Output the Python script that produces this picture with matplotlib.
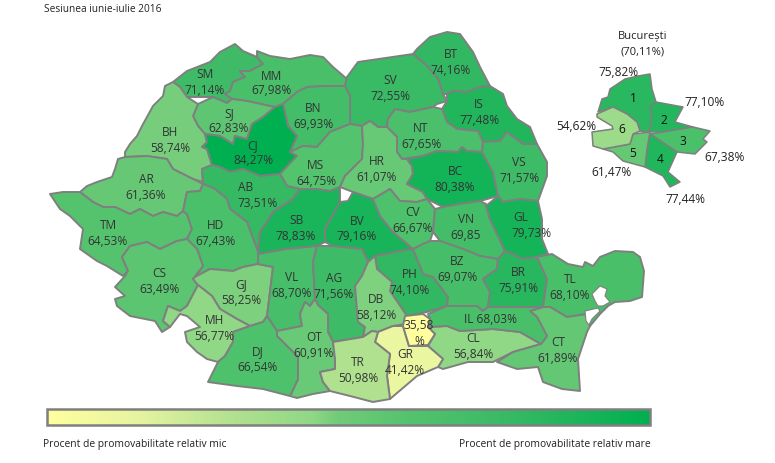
import matplotlib
matplotlib.use("Agg")
import matplotlib.pyplot as plt
from matplotlib.colors import LinearSegmentedColormap, Normalize
from matplotlib.patches import Polygon, Rectangle
import numpy as np

plt.rcParams['font.family'] = ['Open Sans', 'DejaVu Sans']

# county results
counties = ["SM", "MM", "BT", "SV", "IS", "BN", "SJ", "NT", "BH", "CJ", "MS", "HR", "BC", "VS", "AR", "AB",
            "TM", "HD", "SB", "BV", "CV", "VN", "GL", "CS", "GJ", "VL", "AG", "PH", "BZ", "BR", "TL", "DB",
            "MH", "OT", "CL", "CT", "GR", "TR", "DJ", "IL", "IF"]
results = ["71,14%", "67,98%", "74,16%", "72,55%", "77,48%", "69,93%", "62,83%", "67,65%", "58,74%", "84,27%",
           "64,75%", "61,07%", "80,38%", "71,57%", "61,36%", "73,51%", "64,53%", "67,43%", "78,83%", "79,16%",
           "66,67%", "69,85", "79,73%", "63,49%", "58,25%", "68,70%", "71,56%", "74,10%", "69,07%", "75,91%",
           "68,10%", "58,12%", "56,77%", "60,91%", "56,84%", "61,89%", "41,42%", "50,98%", "66,54%", "68,03%",
           "35,58%"]

# Bucharest sectors
sectors = ["1", "2", "3", "4", "5", "6"]
sector_results = ["75,82%", "77,10%", "67,38%", "77,44%", "61,47%", "54,62%"]

title_text = "Sesiunea iunie-iulie 2016"
city_name = "București"
city_result = "(70,11%)"
legend_low = "Procent de promovabilitate relativ mic"
legend_high = "Procent de promovabilitate relativ mare"

# outlines, traced in image pixels
shapes = {
    "SM": [(173,83),(187,72),(210,63),(220,53),(235,45),(243,52),(257,58),(263,65),(250,72),(240,72),(245,78),(233,83),(230,92),(225,95),(232,100),(227,104),(213,98),(187,98),(180,88)],
    "MM": [(257,58),(263,65),(250,72),(240,72),(245,78),(233,83),(230,92),(225,95),(232,100),(247,102),(270,107),(275,108),(283,105),(297,93),(307,88),(323,87),(345,87),(347,80),(333,68),(323,58),(310,56),(290,60),(270,57),(257,52)],
    "SV": [(347,78),(358,63),(413,55),(427,67),(438,80),(443,95),(447,102),(437,105),(433,108),(410,113),(395,110),(388,120),(387,128),(378,128),(370,122),(362,127),(350,125),(350,97),(345,87)],
    "BT": [(413,55),(417,50),(430,38),(447,33),(460,35),(473,53),(480,68),(490,87),(480,88),(467,93),(453,92),(447,95),(443,95),(438,80),(427,67)],
    "IS": [(447,95),(453,92),(467,93),(480,88),(490,87),(503,95),(507,107),(517,120),(530,128),(537,145),(523,145),(507,133),(500,142),(483,143),(478,132),(457,130),(447,123),(442,110),(447,102)],
    "NT": [(395,110),(410,113),(433,108),(442,110),(447,123),(457,130),(478,132),(483,143),(482,153),(467,152),(462,148),(458,153),(437,152),(423,157),(402,160),(397,153),(397,138),(387,128),(388,120)],
    "BC": [(407,160),(423,157),(437,152),(458,153),(462,148),(467,152),(482,153),(493,173),(498,197),(480,202),(460,205),(443,208),(427,200),(423,193),(407,185),(413,175),(412,167)],
    "VS": [(482,153),(483,143),(500,142),(507,133),(523,145),(537,145),(547,163),(547,177),(538,202),(520,200),(503,203),(498,197),(493,173)],
    "HR": [(370,122),(378,128),(387,128),(397,138),(397,153),(402,160),(407,160),(412,167),(413,175),(407,185),(423,193),(427,200),(417,203),(400,202),(390,190),(373,200),(353,193),(340,188),(345,177),(362,160),(363,145),(362,127)],
    "MS": [(362,127),(363,145),(362,160),(345,177),(340,188),(330,192),(317,190),(300,190),(287,187),(280,175),(297,157),(290,153),(303,147),(317,148),(330,133),(350,125)],
    "BN": [(297,93),(307,88),(323,87),(345,87),(350,97),(350,125),(330,133),(317,148),(303,147),(290,153),(297,137),(288,127),(283,105)],
    "SJ": [(193,117),(198,105),(213,98),(227,104),(232,100),(247,102),(270,107),(275,108),(263,118),(252,125),(247,140),(235,137),(233,145),(220,137),(205,135),(198,127)],
    "CJ": [(205,135),(220,137),(233,145),(235,137),(247,140),(252,125),(263,118),(275,108),(283,105),(288,127),(297,137),(290,153),(297,157),(280,175),(260,177),(243,170),(230,173),(220,168),(212,166),(207,150),(202,148),(207,143)],
    "BH": [(173,83),(180,88),(187,98),(198,105),(193,117),(198,127),(205,135),(207,143),(202,148),(207,150),(212,166),(202,170),(203,183),(193,180),(173,170),(167,160),(147,157),(125,158),(125,153),(130,145),(137,137),(142,127),(153,107),(163,97),(165,87)],
    "AR": [(125,158),(147,157),(167,160),(173,170),(193,180),(203,185),(200,192),(187,193),(183,212),(177,217),(163,213),(153,217),(140,210),(130,215),(115,208),(103,208),(93,203),(80,193),(87,187),(97,183),(112,178),(115,170),(118,160)],
    "TM": [(50,195),(63,193),(80,193),(93,203),(103,208),(115,208),(130,215),(140,210),(153,217),(163,213),(177,217),(183,212),(187,215),(192,230),(187,240),(177,242),(160,250),(147,243),(130,247),(122,258),(128,272),(123,277),(107,267),(97,262),(80,250),(83,230),(70,217),(60,210)],
    "CS": [(122,258),(130,247),(147,243),(160,250),(177,242),(187,240),(197,250),(203,267),(193,280),(198,286),(187,307),(180,312),(168,307),(163,322),(170,328),(162,333),(155,322),(130,317),(117,307),(115,300),(125,297),(115,288),(125,277),(128,272)],
    "HD": [(200,192),(187,193),(183,212),(187,215),(192,230),(187,240),(197,250),(203,267),(195,278),(210,270),(233,272),(243,268),(258,265),(258,253),(247,223),(230,210),(227,200),(215,190),(203,185)],
    "AB": [(202,170),(212,166),(220,168),(230,173),(243,170),(260,177),(280,175),(287,187),(300,190),(293,200),(273,213),(267,223),(260,233),(258,253),(247,223),(230,210),(227,200),(215,190),(203,185)],
    "SB": [(258,255),(260,233),(267,223),(273,213),(293,200),(300,190),(317,190),(330,192),(340,188),(340,203),(325,230),(325,243),(317,247),(287,250)],
    "BV": [(340,203),(348,202),(353,193),(373,200),(380,217),(393,233),(413,250),(400,252),(375,257),(368,263),(362,250),(333,247),(325,243),(325,230)],
    "CV": [(373,200),(390,190),(400,202),(417,203),(427,200),(435,210),(433,233),(430,242),(423,245),(413,250),(393,233),(380,217)],
    "VN": [(435,210),(443,208),(460,205),(480,202),(486,205),(490,220),(505,252),(498,260),(480,257),(463,250),(440,242),(433,233)],
    "GL": [(486,207),(498,197),(503,203),(520,200),(538,202),(542,220),(542,240),(548,255),(537,258),(523,260),(505,252),(490,220)],
    "BR": [(505,252),(523,260),(537,258),(547,280),(543,308),(520,308),(488,308),(490,293),(483,280),(490,275),(497,270),(498,260)],
    "BZ": [(440,242),(463,250),(480,257),(498,260),(497,270),(490,275),(483,280),(490,293),(488,308),(483,312),(477,307),(447,307),(448,298),(440,287),(433,278),(423,275),(420,267),(413,250),(423,245),(430,242)],
    "PH": [(375,257),(400,252),(413,250),(420,267),(423,275),(433,278),(440,287),(448,298),(447,307),(427,313),(407,317),(390,292),(392,283),(377,270)],
    "DB": [(368,263),(375,257),(377,270),(392,283),(390,292),(407,317),(405,325),(393,327),(378,333),(372,332),(363,338),(365,328),(358,323),(355,287),(362,277)],
    "AG": [(317,247),(333,247),(362,250),(368,263),(362,277),(355,287),(358,323),(365,328),(363,338),(333,343),(328,333),(328,315),(318,306),(315,300),(313,263)],
    "VL": [(258,255),(287,250),(317,247),(313,263),(315,300),(310,307),(305,303),(300,315),(302,327),(287,330),(277,332),(267,317),(270,293),(273,268),(258,265)],
    "GJ": [(195,278),(210,270),(233,272),(243,268),(258,265),(273,268),(270,293),(267,317),(263,323),(250,327),(237,320),(220,310),(212,297),(198,286),(193,280)],
    "MH": [(198,286),(212,297),(220,310),(237,320),(250,327),(233,333),(233,343),(225,357),(218,363),(207,360),(197,353),(187,343),(185,333),(200,328),(187,317),(180,315),(170,328),(163,322),(168,307),(180,312),(187,307)],
    "DJ": [(250,327),(263,323),(267,317),(277,332),(277,337),(293,353),(298,358),(298,380),(290,397),(263,390),(237,387),(208,383),(218,363),(225,357),(233,343),(233,333)],
    "OT": [(277,332),(287,330),(302,327),(300,315),(305,303),(310,307),(315,300),(318,306),(328,315),(328,333),(333,343),(335,360),(335,370),(320,373),(323,383),(330,392),(313,395),(297,399),(290,397),(298,380),(298,358),(293,353),(277,337)],
    "TR": [(333,343),(363,338),(372,332),(378,333),(375,343),(390,355),(387,377),(390,400),(373,403),(350,397),(330,392),(323,383),(320,373),(335,370),(335,360)],
    "GR": [(378,333),(393,327),(403,327),(409,347),(428,347),(443,360),(438,368),(417,377),(390,400),(387,377),(390,355),(375,343)],
    "IF": [(405,317),(423,315),(430,320),(428,328),(435,335),(428,346),(409,347),(403,327)],
    "IL": [(428,315),(447,307),(477,307),(483,312),(488,308),(520,308),(543,308),(530,312),(537,318),(547,337),(541,345),(520,333),(493,330),(460,332),(447,327),(428,328),(430,320)],
    "CL": [(428,328),(447,327),(460,332),(493,330),(520,333),(541,345),(513,353),(493,363),(468,363),(443,370),(438,368),(443,360),(428,347),(435,335)],
    "CT": [(530,312),(543,308),(550,308),(567,318),(587,315),(590,327),(587,333),(578,360),(580,392),(562,390),(543,383),(538,368),(517,370),(497,363),(513,353),(541,345),(547,337),(537,318)],
    "TL": [(537,258),(552,255),(568,265),(583,268),(585,263),(593,267),(600,258),(615,252),(633,253),(640,258),(644,272),(642,298),(630,302),(615,303),(608,307),(600,315),(590,327),(587,322),(586,315),(567,318),(550,308),(543,308),(547,280)],
}
lagoons = [
    [(592,295),(600,287),(607,290),(605,297),(610,303),(603,307),(598,307),(595,302)],
    [(585,312),(598,309),(600,312),(592,320),(589,326),(586,322)],
]
sector_shapes = {
    "1": [(598,113),(602,100),(608,98),(610,90),(625,80),(638,77),(650,75),(652,90),(656,103),(650,108),(652,117),(649,133),(640,132),(637,123),(627,115),(613,108)],
    "2": [(650,108),(656,103),(683,108),(675,123),(693,128),(663,133),(649,133),(652,117)],
    "3": [(650,135),(663,133),(693,128),(710,132),(703,140),(707,143),(695,155),(677,153),(662,143)],
    "4": [(650,135),(662,143),(677,153),(668,173),(680,183),(670,188),(663,177),(645,168),(647,150)],
    "5": [(633,135),(650,133),(647,150),(645,168),(623,162),(613,153),(603,150),(630,145)],
    "6": [(597,115),(613,108),(627,115),(637,123),(640,132),(633,135),(630,145),(603,150),(593,147),(592,133),(613,130),(612,127),(597,118)],
}

# label centres: name then number
name_xy = {"SM":(205,75),"MM":(272,77),"BT":(451,55),"SV":(390,80),"IS":(479,105),"BN":(313,109),"SJ":(229,114),"NT":(421,129),
           "BH":(170,133),"CJ":(253,146),"MS":(316,166),"HR":(377,162),"BC":(455,172),"VS":(519,163),"AR":(146,180),"AB":(246,188),
           "TM":(108,226),"HD":(215,226),"SB":(296,221),"BV":(357,222),"CV":(413,213),"VN":(466,220),"GL":(521,218),"CS":(159,274),
           "GJ":(241,285),"VL":(292,278),"AG":(334,279),"PH":(410,275),"BZ":(457,262),"BR":(518,273),"TL":(570,280),"DB":(376,300),
           "MH":(214,321),"OT":(314,338),"CL":(473,339),"CT":(558,343),"GR":(405,355),"TR":(358,363),"DJ":(258,352)}
value_xy = {"SM":(205,90),"MM":(272,91),"BT":(451,71),"SV":(390,96),"IS":(479,121),"BN":(313,125),"SJ":(229,129),"NT":(421,145),
            "BH":(170,149),"CJ":(253,161),"MS":(316,182),"HR":(377,178),"BC":(455,188),"VS":(519,179),"AR":(146,196),"AB":(258,204),
            "TM":(108,242),"HD":(215,242),"SB":(296,237),"BV":(357,237),"CV":(413,229),"VN":(466,236),"GL":(531,234),"CS":(159,290),
            "GJ":(241,301),"VL":(292,294),"AG":(334,295),"PH":(410,291),"BZ":(457,278),"BR":(518,289),"TL":(570,296),"DB":(376,316),
            "MH":(214,337),"OT":(314,354),"CL":(473,355),"CT":(558,359),"GR":(405,371),"TR":(358,379),"DJ":(258,368)}
sector_num_xy = {"1":(633,99),"2":(664,120),"3":(683,142),"4":(660,160),"5":(633,154),"6":(622,130)}
sector_val_xy = {"1":(618,73),"2":(705,102),"3":(725,158),"4":(685,200),"5":(612,173),"6":(576,126)}

ramp = LinearSegmentedColormap.from_list("ramp", [(0, "#FFFF9E"), (0.15, "#E6F4A0"), (0.32, "#AEE08E"), (0.44, "#8FD886"),
                                                  (0.48, "#72CC7A"), (0.6, "#54C36E"), (0.75, "#3CBA66"), (1, "#00B050")])
norm = Normalize(35.58, 84.27)

def to_num(s):
    return float(s.replace("%", "").replace(",", "."))

line_col = "#7F7F7F"
text_col = "#333333"
fs = 8.6

fig = plt.figure(figsize=(7.75, 4.64), dpi=100, facecolor="white")
ax = fig.add_axes([0, 0, 1, 1])
ax.set_xlim(0, 775)
ax.set_ylim(464, 0)
ax.axis("off")

for name, res in zip(counties, results):
    ax.add_patch(Polygon(shapes[name], closed=True, facecolor=ramp(norm(to_num(res))), edgecolor=line_col, linewidth=1.4, joinstyle="round"))
    if name in name_xy:
        ax.text(*name_xy[name], name, ha="center", va="center", fontsize=fs, color=text_col)
        ax.text(*value_xy[name], res, ha="center", va="center", fontsize=fs, color=text_col)

# white water in the delta
for lagoon in lagoons:
    ax.add_patch(Polygon(lagoon, closed=True, facecolor="white", edgecolor=line_col, linewidth=0.8))

# the two labels that do not fit the usual pattern
ax.text(490, 320, "IL " + results[counties.index("IL")], ha="center", va="center", fontsize=fs, color=text_col)
ax.text(419, 326, results[counties.index("IF")][:-1], ha="center", va="center", fontsize=fs, color=text_col)
ax.text(419, 342, "%", ha="center", va="center", fontsize=fs, color=text_col)

for s, res in zip(sectors, sector_results):
    ax.add_patch(Polygon(sector_shapes[s], closed=True, facecolor=ramp(norm(to_num(res))), edgecolor=line_col, linewidth=1.1, joinstyle="round"))
    ax.text(*sector_num_xy[s], s, ha="center", va="center", fontsize=fs, color="#111111")
    ax.text(*sector_val_xy[s], res, ha="center", va="center", fontsize=fs, color="#222222")

ax.text(643, 36, city_name, ha="center", va="center", fontsize=8, color="#222222")
ax.text(643, 52, city_result, ha="center", va="center", fontsize=8, color="#222222")
ax.text(44, 10, title_text, ha="left", va="center", fontsize=7.3, color="#222222")

# legend bar
grad = np.linspace(0, 1, 256).reshape(1, -1)
ax.imshow(grad, cmap=ramp, extent=(47, 650, 426, 410), aspect="auto", zorder=2)
ax.set_xlim(0, 775)
ax.set_ylim(464, 0)
ax.add_patch(Rectangle((47, 410), 603, 16, fill=False, edgecolor=line_col, linewidth=1.8, zorder=3))
ax.text(43, 445, legend_low, ha="left", va="center", fontsize=7.4, color="#222222")
ax.text(651, 445, legend_high, ha="right", va="center", fontsize=7.4, color="#222222")

fig.savefig("out.png", dpi=100)
